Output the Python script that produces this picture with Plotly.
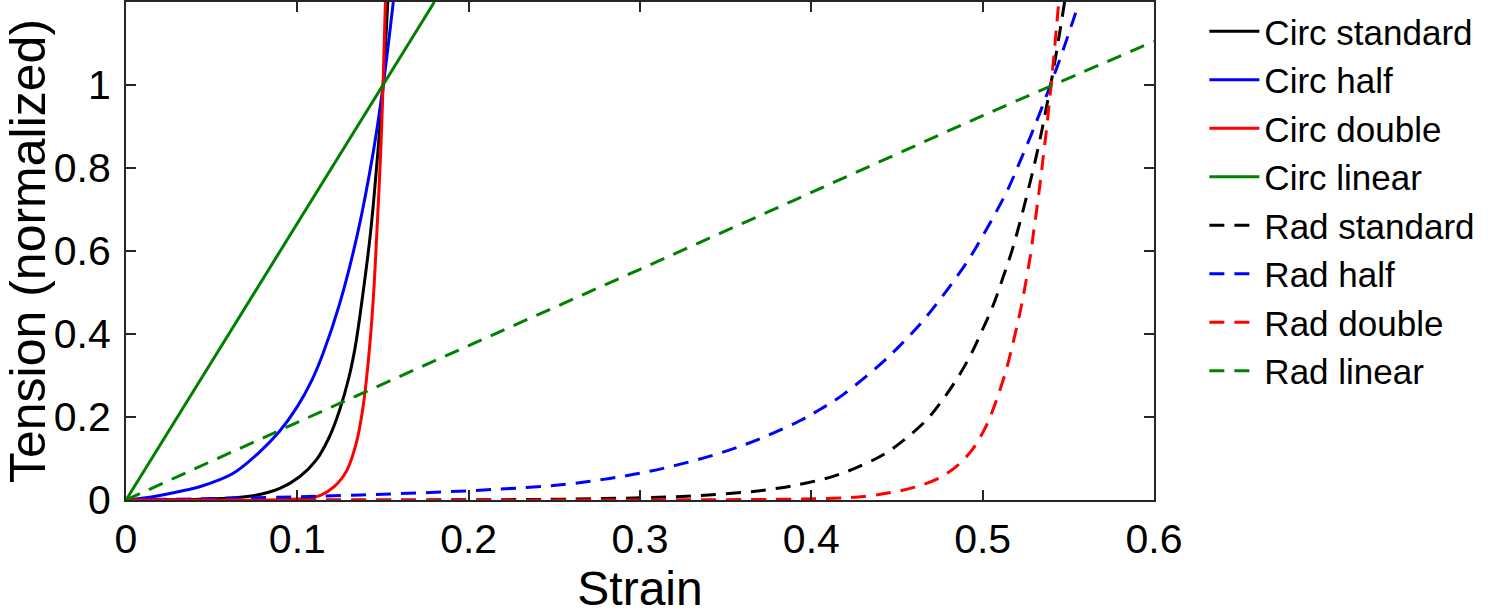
import plotly.graph_objects as go

# ---- data ----
circ_standard_x = [0, 0.02, 0.04, 0.055, 0.075, 0.0898, 0.1013, 0.111, 0.1188, 0.1247, 0.1302, 0.1338, 0.1374, 0.1427, 0.1471, 0.150, 0.1528]
circ_standard_y = [0, 0.0003, 0.0013, 0.0035, 0.011, 0.028, 0.056, 0.096, 0.153, 0.217, 0.297, 0.369, 0.47, 0.643, 0.843, 0.996, 1.2]

circ_half_x = [0, 0.0157, 0.0351, 0.043, 0.0624, 0.077, 0.0895, 0.1000, 0.1085, 0.1150, 0.1245, 0.1352, 0.1445, 0.150, 0.156]
circ_half_y = [0, 0.008, 0.024, 0.032, 0.064, 0.112, 0.165, 0.225, 0.289, 0.353, 0.47, 0.643, 0.843, 0.996, 1.2]

circ_double_x = [0, 0.09, 0.1055, 0.1138, 0.1215, 0.129, 0.1344, 0.1381, 0.1411, 0.1441, 0.1464, 0.1487, 0.150, 0.1514]
circ_double_y = [0, 0.0005, 0.004, 0.012, 0.032, 0.072, 0.137, 0.217, 0.321, 0.47, 0.643, 0.843, 0.996, 1.2]

circ_linear_x = [0, 0.18]
circ_linear_y = [0, 1.2]

rad_standard_x = [0, 0.2, 0.257, 0.3155, 0.335, 0.362, 0.3816, 0.3972, 0.4127, 0.4264, 0.4419, 0.4536, 0.4672, 0.476, 0.4847,
                  0.4928, 0.4994, 0.5062, 0.5121, 0.5169, 0.5207, 0.5247, 0.5286, 0.5321, 0.5352, 0.5381, 0.541, 0.5439, 0.5459, 0.548]
rad_standard_y = [0, 0.0005, 0.002, 0.007, 0.011, 0.019, 0.029, 0.041, 0.057, 0.078, 0.109, 0.143, 0.193, 0.238, 0.290,
                  0.348, 0.406, 0.470, 0.539, 0.598, 0.653, 0.716, 0.781, 0.843, 0.904, 0.965, 1.03, 1.1, 1.15, 1.205]

rad_half_x = [0, 0.1013, 0.2036, 0.257, 0.2823, 0.3018, 0.3213, 0.3427, 0.3622, 0.3777, 0.3933, 0.405, 0.4186, 0.44, 0.4517,
              0.4633, 0.473, 0.4828, 0.4916, 0.4994, 0.5072, 0.515, 0.5213, 0.5294, 0.5392, 0.547, 0.5558]
rad_half_y = [0, 0.008, 0.023, 0.038, 0.052, 0.066, 0.084, 0.108, 0.135, 0.161, 0.191, 0.218, 0.254, 0.326, 0.372,
              0.423, 0.472, 0.526, 0.578, 0.632, 0.689, 0.751, 0.811, 0.891, 0.996, 1.085, 1.193]

rad_double_x = [0, 0.3, 0.4127, 0.432, 0.4478, 0.4614, 0.4745, 0.4847, 0.4944, 0.5022, 0.508, 0.5139, 0.5178, 0.5217, 0.5247,
                0.5277, 0.5297, 0.5318, 0.5338, 0.5356, 0.5373, 0.5388, 0.5404, 0.5419, 0.5432, 0.5444]
rad_double_y = [0, 0.0002, 0.004, 0.009, 0.019, 0.032, 0.053, 0.081, 0.124, 0.180, 0.240, 0.316, 0.380, 0.450, 0.514,
                0.585, 0.645, 0.708, 0.772, 0.836, 0.894, 0.954, 1.020, 1.085, 1.145, 1.2]

rad_linear_x = [0, 0.1, 0.2, 0.3, 0.4, 0.5, 0.6]
rad_linear_y = [0, 0.187, 0.372, 0.556, 0.741, 0.926, 1.105]

x_ticks = [0, 0.1, 0.2, 0.3, 0.4, 0.5, 0.6]
x_tick_labels = ["0", "0.1", "0.2", "0.3", "0.4", "0.5", "0.6"]
y_ticks = [0, 0.2, 0.4, 0.6, 0.8, 1]
y_tick_labels = ["0", "0.2", "0.4", "0.6", "0.8", "1"]

DASH = "15px,10px"
series = [
    ("Circ standard", circ_standard_x, circ_standard_y, "#000000", "solid"),
    ("Circ half", circ_half_x, circ_half_y, "#0000ff", "solid"),
    ("Circ double", circ_double_x, circ_double_y, "#ff0000", "solid"),
    ("Circ linear", circ_linear_x, circ_linear_y, "#008000", "solid"),
    ("Rad standard", rad_standard_x, rad_standard_y, "#000000", DASH),
    ("Rad half", rad_half_x, rad_half_y, "#0000ff", DASH),
    ("Rad double", rad_double_x, rad_double_y, "#ff0000", DASH),
    ("Rad linear", rad_linear_x, rad_linear_y, "#008000", DASH),
]

FONT = "Liberation Sans, Arial, Helvetica, sans-serif"

fig = go.Figure()
for name, xs, ys, color, dash in series:
    fig.add_trace(go.Scatter(
        x=xs, y=ys, name=name, mode="lines",
        line=dict(color=color, width=3, dash=dash, shape="spline", smoothing=1.0),
    ))

axis_common = dict(
    showline=True, linecolor="#262626", linewidth=2, mirror="allticks",
    ticks="inside", ticklen=10, tickwidth=2, tickcolor="#262626",
    showgrid=False, zeroline=False, automargin=False,
    tickfont=dict(family=FONT, size=41, color="#000000"),
)

fig.update_layout(
    width=1500, height=615,
    margin=dict(l=126, r=346, t=2, b=115),
    paper_bgcolor="white", plot_bgcolor="white",
    font=dict(family=FONT, color="#000000"),
    xaxis=dict(range=[0, 0.6], tickvals=x_ticks, ticktext=x_tick_labels,
               title=dict(text="Strain", font=dict(family=FONT, size=48), standoff=19),
               ticklabelstandoff=2, **axis_common),
    yaxis=dict(range=[0, 1.2], tickvals=y_ticks, ticktext=y_tick_labels,
               title=dict(text="Tension (normalized)", font=dict(family=FONT, size=50), standoff=2),
               ticklabelstandoff=5, **axis_common),
    legend=dict(x=1.049, y=1.0, xanchor="left", yanchor="top",
                font=dict(family=FONT, size=35, color="#000000"),
                bgcolor="rgba(0,0,0,0)", borderwidth=0, tracegroupgap=0,
                itemwidth=50),
    showlegend=True,
)

fig.write_html("out.html",
               config={"displayModeBar": False},
               post_script="document.body.style.margin='0px';document.body.style.overflow='hidden';")
